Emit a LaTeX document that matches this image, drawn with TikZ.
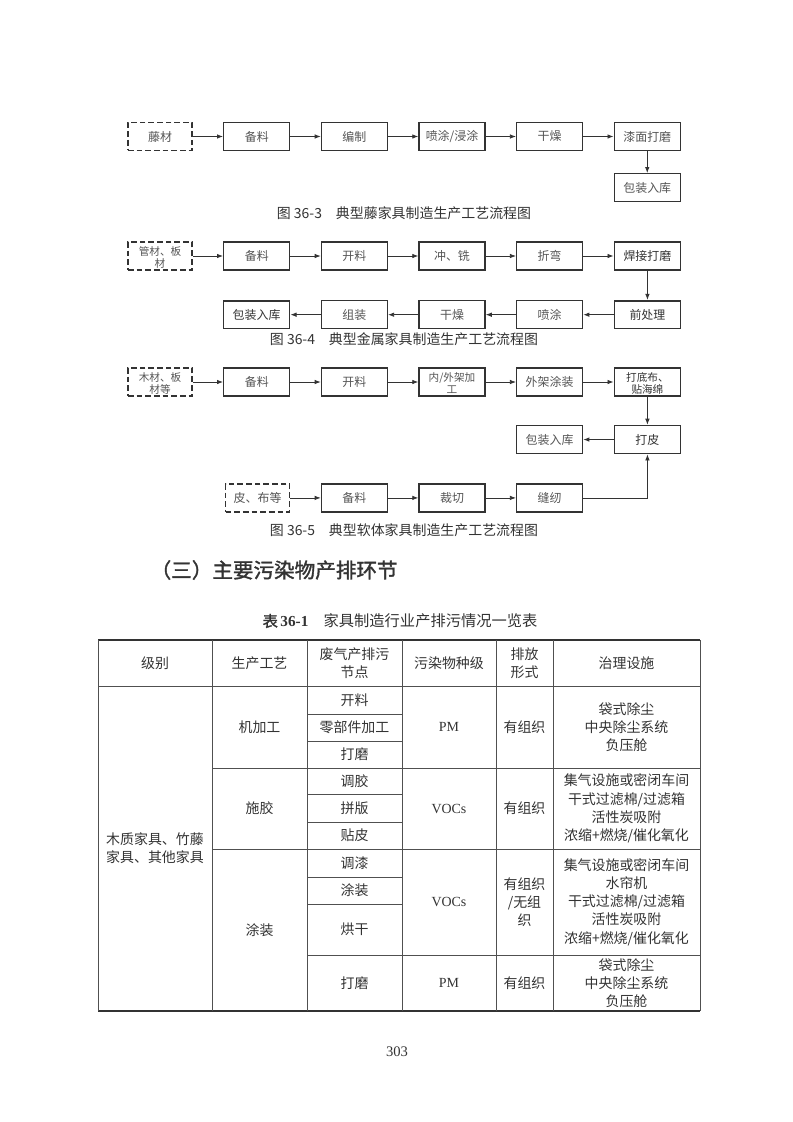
\documentclass[tikz,border=0pt]{standalone}
\usepackage{fontspec}
\setmainfont{Liberation Serif}
\newfontfamily\cjk{Noto Sans CJK SC}
\newfontfamily\cjkb[FakeBold=1.6]{Noto Sans CJK SC}
\usepackage{tikz}
\usetikzlibrary{arrows.meta,positioning}
\definecolor{inkx}{HTML}{333333}
\definecolor{txtx}{HTML}{555555}
\definecolor{rulex}{HTML}{505050}
\tikzset{
  bx/.style={draw=inkx,line width=1pt,minimum width=17.5mm,minimum height=7.4mm,inner sep=1pt,align=center,font=\cjk\fontsize{9}{10}\selectfont,text=txtx},
  bxd/.style={bx,text=inkx,line width=1.25pt},
  src/.style={bx,dash pattern=on 1.5mm off 0.8mm,line width=1.1pt,minimum width=17mm},
  two/.style={font=\cjk\fontsize{8}{9.2}\selectfont,inner sep=0pt,text height=17.6pt,text depth=0.4pt},
  ar/.style={-{Latex[length=1.6mm,width=1.2mm]},line width=0.6pt,inkx},
  figcap/.style={font=\cjk\fontsize{10.5}{12}\selectfont,text=inkx},
  cell/.style={font=\cjk\fontsize{10.5}{13.7}\selectfont,align=center,text=inkx,inner sep=0pt},
  rl/.style={line width=0.55pt,rulex},
  rlb/.style={line width=1.2pt,inkx}
}
\begin{document}
\begin{tikzpicture}[x=0.2648mm,y=-0.2648mm]
\fill[white] (0,0) rectangle (793,1122);
\useasboundingbox (0,0) rectangle (793,1122);
% 图 36-3
\node[src] (t1) at (160,136.5) {藤材};
\node[bx,right=8mm of t1] (t2) {备料};
\node[bx,right=8mm of t2] (t3) {编制};
\node[bx,right=8mm of t3] (t4) {喷涂/浸涂};
\node[bx,right=8mm of t4] (t5) {干燥};
\node[bx,right=8mm of t5] (t6) {漆面打磨};
\node[bx,below=5.8mm of t6] (t7) {包装入库};
\foreach \p/\q in {t1/t2,t2/t3,t3/t4,t4/t5,t5/t6,t6/t7}{\draw[ar] (\p)--(\q);}
\node[figcap] (c1) at (404,213) {图 36-3\quad 典型藤家具制造生产工艺流程图};
% 图 36-4
\node[src,two] (m1) at (160,256) {管材、板\\材};
\node[bx,right=8mm of m1] (m2) {备料};
\node[bx,right=8mm of m2] (m3) {开料};
\node[bx,right=8mm of m3] (m4) {冲、铣};
\node[bx,right=8mm of m4] (m5) {折弯};
\node[bxd,right=8mm of m5] (m6) {焊接打磨};
\node[bxd,below=7.7mm of m6] (m7) {前处理};
\node[bx,left=8mm of m7] (m8) {喷涂};
\node[bx,left=8mm of m8] (m9) {干燥};
\node[bx,left=8mm of m9] (m10) {组装};
\node[bxd,left=8mm of m10] (m11) {包装入库};
\foreach \p/\q in {m1/m2,m2/m3,m3/m4,m4/m5,m5/m6,m6/m7,m7/m8,m8/m9,m9/m10,m10/m11}{\draw[ar] (\p)--(\q);}
\node[figcap] (c2) at (404,339) {图 36-4\quad 典型金属家具制造生产工艺流程图};
% 图 36-5
\node[src,two] (s1) at (160,382) {木材、板\\材等};
\node[bx,right=8mm of s1] (s2) {备料};
\node[bx,right=8mm of s2] (s3) {开料};
\node[bx,two,right=8mm of s3] (s4) {内/外架加\\工};
\node[bx,right=8mm of s4] (s5) {外架涂装};
\node[bxd,two,right=8mm of s5] (s6) {打底布、\\贴海绵};
\node[bxd,below=7.4mm of s6] (s7) {打皮};
\node[bx,left=8mm of s7] (s8) {包装入库};
\node[bx,below=7.7mm of s8] (s9) {缝纫};
\node[bx,left=8mm of s9] (s10) {裁切};
\node[bx,left=8mm of s10] (s11) {备料};
\node[src,left=8mm of s11] (s12) {皮、布等};
\foreach \p/\q in {s1/s2,s2/s3,s3/s4,s4/s5,s5/s6,s6/s7,s7/s8,s12/s11,s11/s10,s10/s9}{\draw[ar] (\p)--(\q);}
\draw[ar] (s9.east) -| (s7.south);
\node[figcap] (c3) at (404,530) {图 36-5\quad 典型软体家具制造生产工艺流程图};
% 标题
\node[font=\cjkb\fontsize{15.5}{18}\selectfont,text=inkx,anchor=west] (hd) at (146,570) {（三）主要污染物产排环节};
\node[font=\cjk\fontsize{11.5}{13}\selectfont,text=inkx] (tcap) at (400,621) {{\cjkb 表}\,{\rmfamily\bfseries 36-1}\quad 家具制造行业产排污情况一览表};
% 表 36-1
\draw[rlb] (98,640)--(700,640);
\draw[rlb] (98,1011)--(700,1011);
\draw[rl] (98,686)--(700,686);
\foreach \y in {714,741,794,822,877,904}{\draw[rl] (307,\y)--(402,\y);}
\foreach \y in {768,849}{\draw[rl] (212,\y)--(700,\y);}
\draw[rl] (307,955)--(700,955);
\foreach \x in {98,212,307,402,496,553,700}{\draw[rl] (\x,640)--(\x,1011);}
\node[cell] (h1) at (155,663) {级别};
\node[cell] (h2) at (259.5,663) {生产工艺};
\node[cell] (h3) at (354.5,663) {废气产排污\\节点};
\node[cell] (h4) at (449,663) {污染物种级};
\node[cell] (h5) at (524.5,663) {排放\\形式};
\node[cell] (h6) at (626.5,663) {治理设施};
\node[cell] (a1) at (155,848.5) {木质家具、竹藤\\家具、其他家具};
\node[cell] (b1) at (259.5,727) {机加工};
\node[cell] (b2) at (259.5,808.5) {施胶};
\node[cell] (b3) at (259.5,930) {涂装};
\node[cell] (d1) at (354.5,700) {开料};
\node[cell] (d2) at (354.5,727.5) {零部件加工};
\node[cell] (d3) at (354.5,754.5) {打磨};
\node[cell] (d4) at (354.5,781) {调胶};
\node[cell] (d5) at (354.5,808) {拼版};
\node[cell] (d6) at (354.5,835.5) {贴皮};
\node[cell] (d7) at (354.5,863) {调漆};
\node[cell] (d8) at (354.5,890.5) {涂装};
\node[cell] (d9) at (354.5,929.5) {烘干};
\node[cell] (d10) at (354.5,983) {打磨};
\node[cell] (e1) at (449,727) {\rmfamily PM};
\node[cell] (e2) at (449,808.5) {\rmfamily VOCs};
\node[cell] (e3) at (449,902) {\rmfamily VOCs};
\node[cell] (e4) at (449,983) {\rmfamily PM};
\node[cell] (f1) at (524.5,727) {有组织};
\node[cell] (f2) at (524.5,808.5) {有组织};
\node[cell] (f3) at (524.5,902) {有组织\\/无组\\织};
\node[cell] (f4) at (524.5,983) {有组织};
\node[cell] (g1) at (626.5,727) {袋式除尘\\中央除尘系统\\负压舱};
\node[cell] (g2) at (626.5,808.5) {集气设施或密闭车间\\干式过滤棉/过滤箱\\活性炭吸附\\浓缩+燃烧/催化氧化};
\node[cell] (g3) at (626.5,902) {集气设施或密闭车间\\水帘机\\干式过滤棉/过滤箱\\活性炭吸附\\浓缩+燃烧/催化氧化};
\node[cell] (g4) at (626.5,983) {袋式除尘\\中央除尘系统\\负压舱};
\node[font=\rmfamily\fontsize{11}{13}\selectfont,text=inkx] (pg) at (397,1052) {303};
\end{tikzpicture}
\end{document}
